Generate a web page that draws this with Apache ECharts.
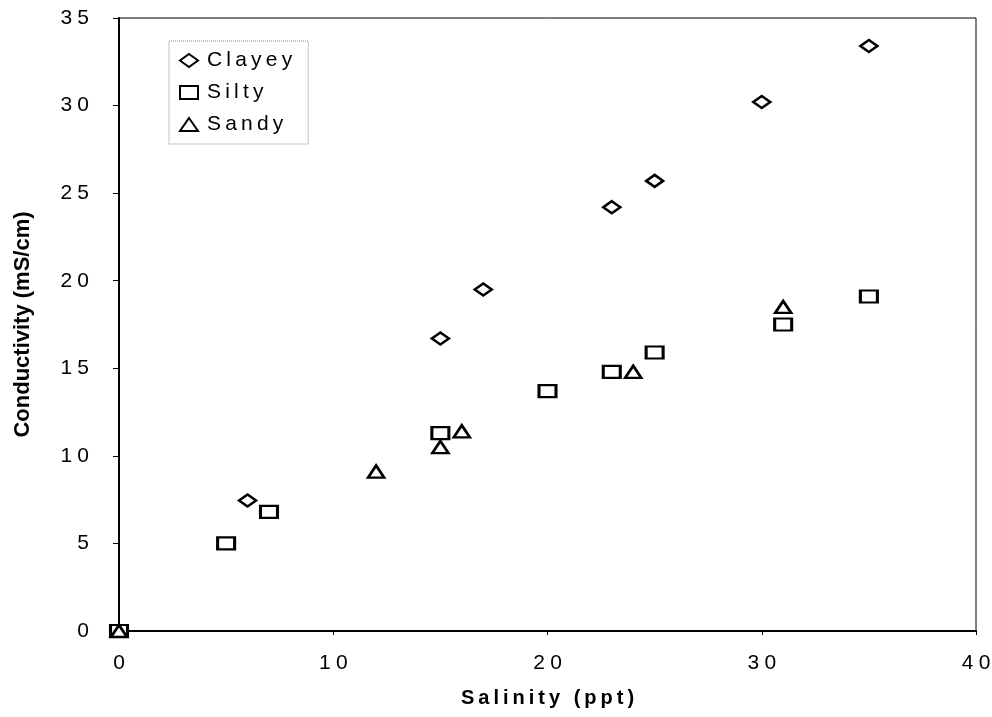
<!DOCTYPE html>
<html>
<head>
<meta charset="utf-8">
<script src="https://cdn.jsdelivr.net/npm/echarts@6/dist/echarts.min.js"></script>
<style>
  html, body { margin: 0; padding: 0; background: #fff; }
  #chart { width: 992px; height: 717px; }
</style>
</head>
<body>
<div id="chart"></div>
<script>
// ── Data ──────────────────────────────────────────────────────────────
const clayey = [[6, 7.45], [15, 16.7], [17, 19.5], [23, 24.2], [25, 25.7], [30, 30.2], [35, 33.4]];
const silty  = [[0, 0], [5, 5.0], [7, 6.8], [15, 11.3], [20, 13.7], [23, 14.8], [25, 15.9], [31, 17.5], [35, 19.1]];
const sandy  = [[0, 0], [12, 9.1], [15, 10.5], [16, 11.4], [24, 14.8], [31, 18.5]];
const seriesNames = ['Clayey', 'Silty', 'Sandy'];
const xTitle = 'Salinity (ppt)';
const yTitle = 'Conductivity (mS/cm)';

// spread characters a little, like the original's loose lettering
const spaced = (s) => String(s).split('').join('\u2005');
const spacedThin = (s) => String(s).split('').join('\u2009');

const font = '"Liberation Sans", Arial, sans-serif';
const ink = '#000';

const markerStyle = { color: '#fff', borderColor: ink, borderWidth: 2.6, opacity: 1 };

const chart = echarts.init(document.getElementById('chart'), null, { renderer: 'canvas' });
chart.setOption({
  animation: false,
  backgroundColor: '#fff',
  grid: {
    left: 119, right: 16, top: 18, bottom: 86,
    outerBoundsMode: 'none', containLabel: false,
    show: true, borderColor: ink, borderWidth: 1, backgroundColor: 'transparent'
  },
  legend: {
    orient: 'vertical',
    left: 169, top: 41,
    padding: [9, 16, 9, 10],
    itemGap: 11,
    itemWidth: 18, itemHeight: 13,
    borderColor: '#888', borderWidth: 1, borderType: 'dotted',
    textStyle: { fontFamily: font, fontSize: 21, color: ink, padding: [0, 0, 0, 4] },
    formatter: (n) => spacedThin(n),
    data: seriesNames
  },
  xAxis: {
    type: 'value', min: 0, max: 40, interval: 10,
    name: spacedThin(xTitle), nameLocation: 'middle', nameGap: 57,
    nameTextStyle: { fontFamily: font, fontSize: 20, fontWeight: 'bold', color: ink },
    axisLine: { show: true, lineStyle: { color: ink, width: 2 } },
    axisTick: { show: true, length: 4, lineStyle: { color: ink } },
    axisLabel: { fontFamily: font, fontSize: 21, color: ink, margin: 22, formatter: (v) => spaced(v) },
    splitLine: { show: false }
  },
  yAxis: {
    type: 'value', min: 0, max: 35, interval: 5,
    name: yTitle, nameLocation: 'middle', nameGap: 85,
    nameTextStyle: { fontFamily: font, fontSize: 22, fontWeight: 'bold', color: ink },
    axisLine: { show: true, lineStyle: { color: ink, width: 2 } },
    axisTick: { show: true, length: 6, lineStyle: { color: ink } },
    axisLabel: { fontFamily: font, fontSize: 21, color: ink, margin: 30, formatter: (v) => spaced(v) },
    splitLine: { show: false }
  },
  series: [
    { name: seriesNames[0], type: 'scatter', symbol: 'diamond', symbolSize: [17, 12], data: clayey, itemStyle: markerStyle, z: 3 },
    { name: seriesNames[1], type: 'scatter', symbol: 'rect',    symbolSize: [17, 12], data: silty,  itemStyle: markerStyle, z: 2 },
    { name: seriesNames[2], type: 'scatter', symbol: 'triangle', symbolSize: [16, 12], data: sandy, itemStyle: markerStyle, z: 4 }
  ]
});
</script>
</body>
</html>
